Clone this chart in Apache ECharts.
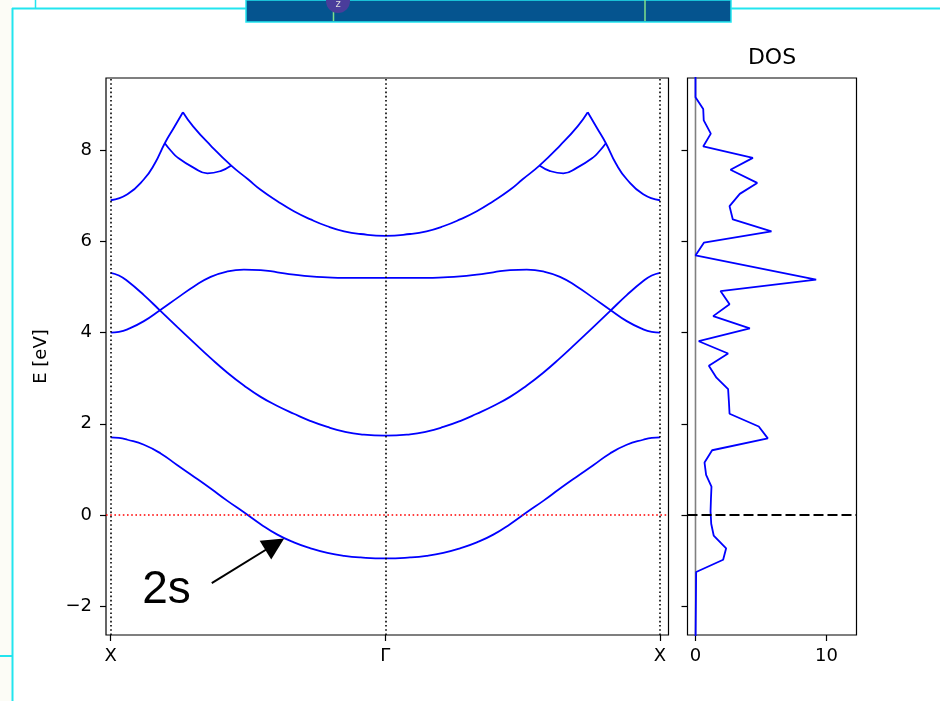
<!DOCTYPE html>
<html><head><meta charset="utf-8">
<script src="https://cdn.jsdelivr.net/npm/echarts@6/dist/echarts.min.js"></script>
<style>html,body{margin:0;padding:0;background:#fff}#c{width:940px;height:701px}</style>
</head><body><div id="c"></div>
<script>
// ---- tick labels ----
const kTickPos = [0, 1, 2];
const kTickLabels = ['X', 'Γ', 'X'];
const eTicks = [-2, 0, 2, 4, 6, 8];
const dosTicks = [0, 10];

// ---- band structure (k: X=0, Γ=1, X=2) ----
const kL = [0, 0.03, 0.061, 0.121, 0.182, 0.243, 0.303, 0.364, 0.425, 0.485, 0.546, 0.607, 0.667, 0.728, 0.789, 0.850, 0.910, 1.0];
const kR = [1.0, 1.090, 1.150, 1.211, 1.272, 1.333, 1.393, 1.454, 1.515, 1.575, 1.636, 1.697, 1.757, 1.818, 1.879, 1.939, 1.970, 2.0];

const band1L = [1.70, 1.69, 1.65, 1.54, 1.35, 1.09, 0.84, 0.58, 0.31, 0.06, -0.20, -0.43, -0.60, -0.73, -0.83, -0.895, -0.93, -0.95];
const band1R = [-0.95, -0.93, -0.895, -0.83, -0.73, -0.60, -0.43, -0.20, 0.06, 0.31, 0.58, 0.84, 1.09, 1.35, 1.54, 1.65, 1.69, 1.70];

const bandBL = [5.31, 5.25, 5.13, 4.82, 4.47, 4.12, 3.78, 3.44, 3.12, 2.84, 2.59, 2.39, 2.22, 2.06, 1.93, 1.83, 1.77, 1.74];
const bandBR = [1.74, 1.77, 1.83, 1.93, 2.06, 2.22, 2.39, 2.59, 2.84, 3.12, 3.44, 3.78, 4.12, 4.47, 4.82, 5.13, 5.25, 5.31];

const bandAL = [4.00, 4.015, 4.07, 4.25, 4.50, 4.76, 5.01, 5.22, 5.34, 5.38, 5.37, 5.32, 5.27, 5.23, 5.21, 5.20, 5.20, 5.20];
const bandAR = [5.20, 5.20, 5.20, 5.21, 5.23, 5.27, 5.32, 5.37, 5.38, 5.34, 5.22, 5.01, 4.76, 4.50, 4.25, 4.07, 4.015, 4.00];

const topUpLK = [0, 0.061, 0.121, 0.160, 0.197, 0.230, 0.263];
const topUpLE = [6.90, 7.03, 7.36, 7.70, 8.15, 8.49, 8.83];
const topDnLK = [0.263, 0.300, 0.364, 0.439, 0.500, 0.546, 0.607, 0.667, 0.728, 0.789, 0.850, 0.910, 1.0];
const topDnLE = [8.83, 8.52, 8.10, 7.66, 7.36, 7.13, 6.88, 6.66, 6.48, 6.33, 6.22, 6.16, 6.12];
const topDnRK = [1.0, 1.090, 1.150, 1.211, 1.272, 1.333, 1.393, 1.454, 1.500, 1.561, 1.636, 1.700, 1.737];
const topDnRE = [6.12, 6.16, 6.22, 6.33, 6.48, 6.66, 6.88, 7.13, 7.36, 7.66, 8.10, 8.52, 8.83];
const topUpRK = [1.737, 1.770, 1.803, 1.840, 1.879, 1.939, 2.0];
const topUpRE = [8.83, 8.49, 8.15, 7.70, 7.36, 7.03, 6.90];
const arcLK = [0.197, 0.220, 0.243, 0.303, 0.352, 0.400, 0.439];
const arcLE = [8.15, 7.98, 7.84, 7.61, 7.49, 7.54, 7.66];
const arcRK = [1.561, 1.600, 1.648, 1.697, 1.757, 1.780, 1.803];
const arcRE = [7.66, 7.54, 7.49, 7.61, 7.84, 7.98, 8.15];

// ---- DOS ----
const dosE = [9.85, 9.16, 8.90, 8.65, 8.36, 8.08, 7.83, 7.57, 7.28, 7.04, 6.77, 6.48, 6.22, 5.97, 5.69, 5.16, 4.91, 4.62, 4.36, 4.09, 3.81, 3.54, 3.27, 3.01, 2.76, 2.49, 2.22, 1.94, 1.68, 1.42, 1.15, 0.88, 0.62, 0.35, 0.08, -0.19, -0.45, -0.73, -0.98, -1.25, -2.9];
const dosV = [0, 0, 0.59, 0.63, 1.17, 0.59, 4.38, 2.67, 4.71, 3.38, 2.60, 2.85, 5.80, 0.64, 0, 9.21, 1.91, 2.60, 1.35, 4.15, 0.25, 2.49, 1.02, 1.60, 2.49, 2.55, 2.60, 4.83, 5.52, 1.27, 0.69, 0.81, 1.22, 1.18, 1.15, 1.20, 1.39, 2.34, 2.11, 0.05, 0];
const dosZeroLineE = [-2.63, 9.58];

// ---- annotation ----
const annText = '2s';
const annTextAt = [0.203, -1.64];
const annArrowFrom = [0.368, -1.495];
const annArrowTo = [0.5975, -0.641];

const pairs = (ks, es) => ks.map((k, i) => [k, es[i]]);
const join = (a, b) => a.concat(b.slice(1));

const FONT = 'DejaVu Sans';
const BLUE = '#0000ff';
const minusFmt = v => (v < 0 ? '\u2212' + Math.abs(v) : String(v));

function bandSeries(data, extra) {
  return Object.assign({
    type: 'line', xAxisIndex: 0, yAxisIndex: 0, data: data,
    showSymbol: false, symbol: 'none', smooth: 0.5, silent: true, z: 3,
    color: BLUE, lineStyle: { color: BLUE, width: 1.8 }
  }, extra || {});
}

const tickStyle = { show: true, inside: false, length: 6, lineStyle: { color: '#000', width: 1.2 } };
const labelStyle = { fontFamily: FONT, fontSize: 18, color: '#000' };
const noLine = { show: false, onZero: false };

const chart = echarts.init(document.getElementById('c'), null, { renderer: 'canvas' });
chart.setOption({
  animation: false,
  backgroundColor: '#ffffff',
  grid: [
    { left: 106, top: 78, width: 562.5, height: 557, show: true, borderColor: '#000', borderWidth: 1.2, backgroundColor: 'transparent' },
    { left: 687.5, top: 78, width: 169, height: 557, show: true, borderColor: '#000', borderWidth: 1.2, backgroundColor: 'transparent' }
  ],
  xAxis: [
    { type: 'value', gridIndex: 0, position: 'bottom', min: -0.0171, max: 2.031,
      axisLine: noLine, splitLine: { show: false },
      axisTick: Object.assign({ customValues: kTickPos }, tickStyle),
      axisLabel: Object.assign({ customValues: kTickPos, margin: 12,
        formatter: v => kTickLabels[kTickPos.indexOf(Math.round(v))] }, labelStyle) },
    { type: 'value', gridIndex: 1, position: 'bottom', min: -0.61, max: 12.29,
      axisLine: noLine, splitLine: { show: false },
      axisTick: Object.assign({ customValues: dosTicks }, tickStyle),
      axisLabel: Object.assign({ customValues: dosTicks, margin: 12, formatter: v => String(v) }, labelStyle) }
  ],
  yAxis: [
    { type: 'value', gridIndex: 0, position: 'left', min: -2.63, max: 9.58,
      name: 'E [eV]', nameLocation: 'middle', nameGap: 56,
      nameTextStyle: { fontFamily: FONT, fontSize: 18, color: '#000' },
      axisLine: noLine, splitLine: { show: false },
      axisTick: Object.assign({ customValues: eTicks }, tickStyle),
      axisLabel: Object.assign({ customValues: eTicks, margin: 14, formatter: minusFmt }, labelStyle) },
    { type: 'value', gridIndex: 1, position: 'left', min: -2.63, max: 9.58,
      axisLine: noLine, splitLine: { show: false },
      axisTick: Object.assign({ customValues: eTicks }, tickStyle),
      axisLabel: { show: false } }
  ],
  series: [
    // reference lines for main panel
    { type: 'line', xAxisIndex: 0, yAxisIndex: 0, data: [], silent: true, z: 1, color: '#000',
      markLine: { silent: true, symbol: ['none', 'none'], label: { show: false }, animation: false,
        lineStyle: { color: '#000', width: 1.6, type: [1.6, 2.6] },
        data: [
          { xAxis: kTickPos[0], lineStyle: { color: '#000', width: 1.6, type: [1.6, 2.6] } },
          { xAxis: kTickPos[1], lineStyle: { color: '#000', width: 1.6, type: [1.6, 2.6] } },
          { xAxis: kTickPos[2], lineStyle: { color: '#000', width: 1.6, type: [1.6, 2.6] } },
          { yAxis: 0, lineStyle: { color: '#ff0000', width: 1.6, type: [1.6, 2.6] } }
        ] } },
    bandSeries(join(pairs(kL, band1L), pairs(kR, band1R)), {
      markLine: { silent: true, animation: false, symbol: ['none', 'triangle'], symbolSize: 22,
        label: { show: false },
        lineStyle: { color: '#000', width: 2, type: 'solid' },
        itemStyle: { color: '#000' },
        data: [[{ coord: annArrowFrom }, { coord: annArrowTo }]] },
      markPoint: { silent: true, animation: false, symbol: 'circle', symbolSize: 1,
        itemStyle: { color: 'rgba(0,0,0,0)' },
        label: { show: true, position: 'inside', formatter: annText, fontFamily: 'Liberation Sans', fontSize: 46, color: '#000' },
        data: [{ coord: annTextAt }] }
    }),
    bandSeries(join(pairs(kL, bandBL), pairs(kR, bandBR))),
    bandSeries(join(pairs(kL, bandAL), pairs(kR, bandAR))),
    bandSeries(pairs(topUpLK, topUpLE)),
    bandSeries(join(pairs(topDnLK, topDnLE), pairs(topDnRK, topDnRE))),
    bandSeries(pairs(topUpRK, topUpRE)),
    bandSeries(pairs(arcLK, arcLE)),
    bandSeries(pairs(arcRK, arcRE)),
    // DOS panel
    { type: 'line', xAxisIndex: 1, yAxisIndex: 1, data: dosZeroLineE.map(e => [0, e]),
      showSymbol: false, symbol: 'none', silent: true, z: 1, color: '#808080',
      lineStyle: { color: '#808080', width: 1.6 } },
    { type: 'line', xAxisIndex: 1, yAxisIndex: 1, data: [], silent: true, z: 1, color: '#000',
      markLine: { silent: true, symbol: ['none', 'none'], label: { show: false }, animation: false,
        lineStyle: { color: '#000', width: 1.8, type: [10, 4] },
        data: [ { yAxis: 0 } ] } },
    { type: 'line', xAxisIndex: 1, yAxisIndex: 1, data: dosE.map((e, i) => [dosV[i], e]),
      showSymbol: false, symbol: 'none', silent: true, z: 3, clip: true, color: BLUE,
      lineStyle: { color: BLUE, width: 1.8 } }
  ],
  graphic: [
    { type: 'text', x: 772, y: 58, z: 10, style: { text: 'DOS', align: 'center', verticalAlign: 'middle', font: '22px "DejaVu Sans"', fill: '#000' } },
    // screenshot decorations
    { type: 'rect', z: 20, shape: { x: 0, y: 0, width: 12, height: 701 }, style: { fill: '#fcfcf6' } },
    { type: 'line', z: 21, shape: { x1: 12, y1: 8.5, x2: 940, y2: 8.5 }, style: { stroke: '#22e5ef', lineWidth: 2 } },
    { type: 'line', z: 21, shape: { x1: 12.5, y1: 8, x2: 12.5, y2: 701 }, style: { stroke: '#22e5ef', lineWidth: 2 } },
    { type: 'line', z: 21, shape: { x1: 35.5, y1: 0, x2: 35.5, y2: 8 }, style: { stroke: '#22e5ef', lineWidth: 1.5 } },
    { type: 'line', z: 21, shape: { x1: 0, y1: 656, x2: 12, y2: 656 }, style: { stroke: '#22e5ef', lineWidth: 2 } },
    { type: 'rect', z: 22, shape: { x: 246, y: 0, width: 485, height: 22 }, style: { fill: '#05548f', stroke: '#22e5ef', lineWidth: 1.5 } },
    { type: 'line', z: 23, shape: { x1: 333.5, y1: 10, x2: 333.5, y2: 21 }, style: { stroke: '#7fe08a', lineWidth: 1.5 } },
    { type: 'line', z: 23, shape: { x1: 645, y1: 0, x2: 645, y2: 21 }, style: { stroke: '#7fe08a', lineWidth: 1.5 } },
    { type: 'circle', z: 24, shape: { cx: 338, cy: 1, r: 12 }, style: { fill: '#4a3d9b' } },
    { type: 'text', z: 25, x: 338, y: 4, style: { text: 'z', align: 'center', verticalAlign: 'middle', font: '10px "DejaVu Sans"', fill: '#dddddd' } }
  ]
});
</script>
</body></html>
